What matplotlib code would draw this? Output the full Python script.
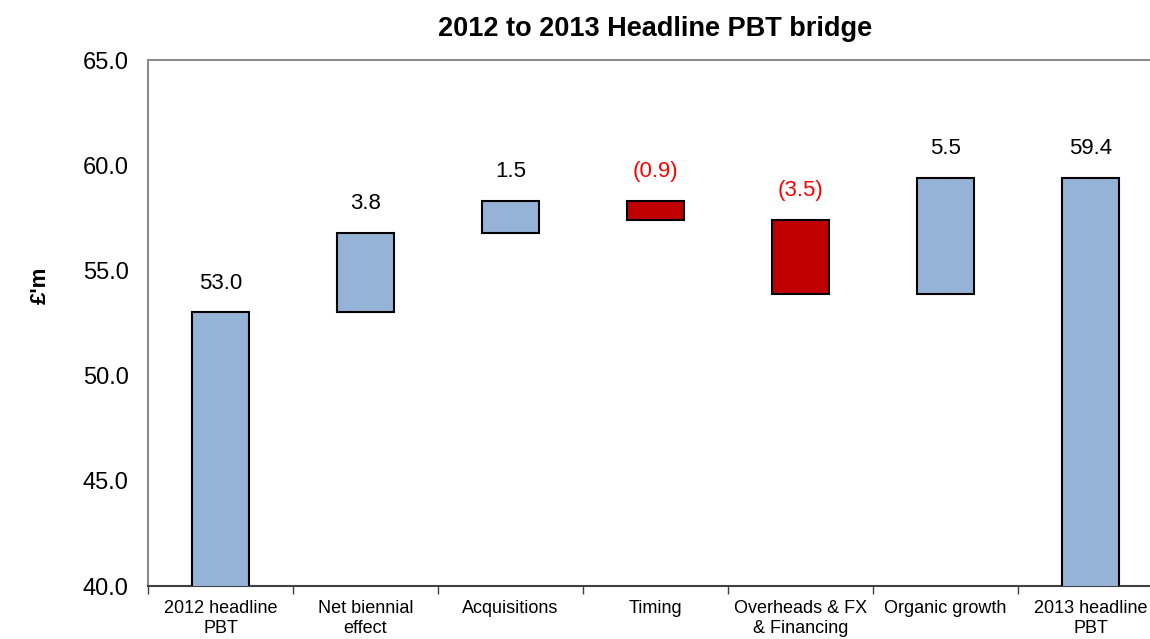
"""
2012 to 2013 Headline PBT bridge - waterfall chart.
"""

import matplotlib

matplotlib.use("Agg")

import matplotlib.pyplot as plt
import numpy as np

plt.rcParams["font.family"] = ["Liberation Sans", "DejaVu Sans"]

categories = [
    "2012 headline\nPBT",
    "Net biennial\neffect",
    "Acquisitions",
    "Timing",
    "Overheads & FX\n& Financing",
    "Organic growth",
    "2013 headline\nPBT",
]
steps = [53.0, 3.8, 1.5, -0.9, -3.5, 5.5, 59.4]
is_total = [True, False, False, False, False, False, True]
value_labels = ["53.0", "3.8", "1.5", "(0.9)", "(3.5)", "5.5", "59.4"]

y_ticks = [40.0, 45.0, 50.0, 55.0, 60.0, 65.0]

BLUE = "#95B3D7"
RED = "#C00000"
LABEL_RED = "#FF0000"

# bar bottoms / tops of the bridge
bottoms = []
tops = []
running = 0.0
for val, total in zip(steps, is_total):
    if total:
        bottoms.append(0.0)
        tops.append(val)
        running = val
    else:
        start = running
        running = running + val
        bottoms.append(min(start, running))
        tops.append(max(start, running))

fig = plt.figure(figsize=(11.5, 6.39), dpi=100)
ax = fig.add_axes([148 / 1150, 53 / 639, 1015 / 1150, 526 / 639])

x = np.arange(len(categories))
colors = [RED if (not t and v < 0) else BLUE for v, t in zip(steps, is_total)]
heights = [t - b for t, b in zip(tops, bottoms)]

ax.bar(
    x,
    heights,
    bottom=bottoms,
    width=0.39,
    color=colors,
    edgecolor="black",
    linewidth=1.5,
    zorder=3,
)

for xi, top, lab, val, total in zip(x, tops, value_labels, steps, is_total):
    color = LABEL_RED if (not total and val < 0) else "black"
    ax.text(
        xi,
        top + 1.4,
        lab,
        ha="center",
        va="center",
        fontsize=16,
        color=color,
    )

ax.set_xlim(-0.5, len(categories) - 0.5)
ax.set_ylim(40, 65)
ax.set_yticks(y_ticks)
ax.set_yticklabels([f"{v:.1f}" for v in y_ticks], fontsize=17)
ax.tick_params(axis="y", length=0, pad=14)

ax.set_xticks(x)
ax.set_xticklabels(categories, fontsize=13, linespacing=1.25)
ax.set_xticks(np.arange(-0.5, len(categories), 1), minor=True)
ax.tick_params(axis="x", which="major", length=0, pad=10)
ax.tick_params(axis="x", which="minor", length=6, width=1, color="#404040")

for side in ["left", "top", "right"]:
    ax.spines[side].set_color("#8c8c8c")
    ax.spines[side].set_linewidth(1.5)
ax.spines["bottom"].set_color("#404040")
ax.spines["bottom"].set_linewidth(1.5)

fig.text(
    655 / 1150,
    1 - 29 / 639,
    "2012 to 2013 Headline PBT bridge",
    ha="center",
    va="center",
    fontsize=19.5,
    fontweight="bold",
)
fig.text(
    40 / 1150,
    1 - 285 / 639,
    "£'m",
    rotation=90,
    ha="center",
    va="center",
    fontsize=16,
    fontweight="bold",
)

fig.savefig("out.png", dpi=100)
